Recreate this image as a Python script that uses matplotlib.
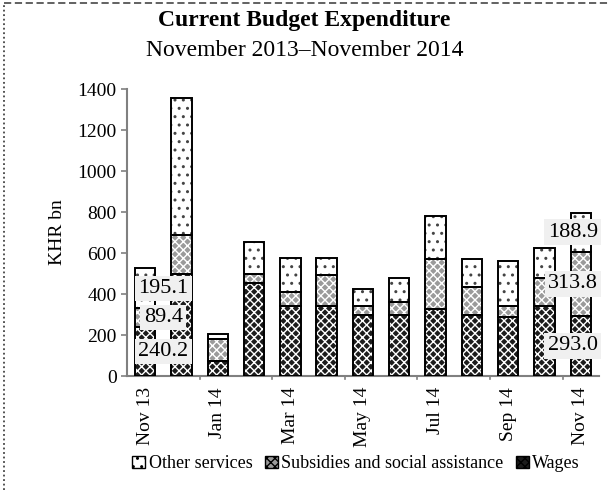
import matplotlib
matplotlib.use("Agg")
import matplotlib.pyplot as plt
from matplotlib.patches import Patch
from matplotlib.lines import Line2D

plt.rcParams['font.family'] = ['Liberation Serif', 'DejaVu Serif']
plt.rcParams['hatch.linewidth'] = 1.0

months = ["Nov 13", "Dec 13", "Jan 14", "Feb 14", "Mar 14", "Apr 14", "May 14",
          "Jun 14", "Jul 14", "Aug 14", "Sep 14", "Oct 14", "Nov 14"]
wages = [240.2, 500, 72, 452, 340, 340, 300, 300, 325, 300, 290, 340, 293.0]
subsidies = [89.4, 186, 108, 45, 70, 152, 40, 60, 245, 132, 50, 136, 313.8]
other = [195.1, 672, 25, 156, 168, 83, 85, 117, 210, 138, 220, 150, 188.9]
yticks = [0, 200, 400, 600, 800, 1000, 1200, 1400]

fig = plt.figure(figsize=(6.09, 4.95), dpi=100)
ax = fig.add_axes([0.2085, 0.2404, 0.775, 0.5797])

x = list(range(len(months)))
w = 0.56

styles = [
    ("Wages", wages, "#1c1c1c", "white", "xxxx"),
    ("Subsidies and social assistance", subsidies, "#9a9a9a", "white", "xxxx"),
    ("Other services", other, "white", "#444444", ".."),
]

bottom = [0.0] * len(x)
for name, vals, face, hcol, hatch in styles:
    ax.bar(x, vals, w, bottom=bottom, color=face, edgecolor=hcol,
           linewidth=0, hatch=hatch, zorder=2)
    ax.bar(x, vals, w, bottom=bottom, fill=False, edgecolor="black",
           linewidth=1.4, zorder=3)
    bottom = [b + v for b, v in zip(bottom, vals)]

# value labels for first and last month
def seg_labels(i, dx):
    base = 0.0
    for vals in (wages, subsidies, other):
        v = vals[i]
        ax.text(i + dx, base + v / 2, f"{v:.1f}", ha="center", va="center",
                fontsize=16, zorder=5,
                bbox=dict(boxstyle="square,pad=0.15", fc="#f0f0f0", ec="none"))
        base += v

seg_labels(0, 0.5)
seg_labels(12, -0.22)

ax.set_xlim(-0.5, len(x) - 0.5)
ax.set_ylim(0, 1400)
ax.set_yticks(yticks)
ax.set_yticklabels([str(t) for t in yticks], fontsize=14)
ax.set_xticks(x[::2])
ax.set_xticklabels(months[::2], rotation=90, fontsize=14)
ax.tick_params(axis="x", length=0, pad=8)
ax.tick_params(axis="y", length=4, color="#808080", width=1.2, direction="out")
# tick marks at every second category boundary
for b in [-0.5 + 2 * k for k in range(1, 7)]:
    ax.plot([b, b], [0, -16], color="#808080", lw=1.2, clip_on=False, zorder=1)

for s in ("top", "right"):
    ax.spines[s].set_visible(False)
for s in ("left", "bottom"):
    ax.spines[s].set_color("#808080")
    ax.spines[s].set_linewidth(1.5)

ax.set_ylabel("KHR bn", fontsize=14, labelpad=8)

fig.text(0.5, 0.958, "Current Budget Expenditure", ha="center", va="center",
         fontsize=17, fontweight="bold")
fig.text(0.5, 0.897, "November 2013\u2013November 2014", ha="center",
         va="center", fontsize=17)

handles = [
    Patch(facecolor="white", edgecolor="black", hatch=".."),
    Patch(facecolor="#9a9a9a", edgecolor="black", hatch="xxxx"),
    Patch(facecolor="#1c1c1c", edgecolor="black", hatch="xxxx"),
]
fig.legend(handles, ["Other services", "Subsidies and social assistance", "Wages"],
           loc="center", bbox_to_anchor=(0.585, 0.063), ncol=3, frameon=False,
           fontsize=13, handlelength=0.7, handleheight=0.7,
           handletextpad=0.2, columnspacing=0.7)

# figure frame (left dotted, top dashed)
fig.add_artist(Line2D([0.006, 0.006], [0.01, 0.994], transform=fig.transFigure,
                      color="#444444", lw=1.3, ls=(0, (1, 1.5))))
fig.add_artist(Line2D([0.006, 1.0], [0.994, 0.994], transform=fig.transFigure,
                      color="#555555", lw=1.3, ls=(0, (4, 2))))

fig.savefig("out.png", dpi=100)
